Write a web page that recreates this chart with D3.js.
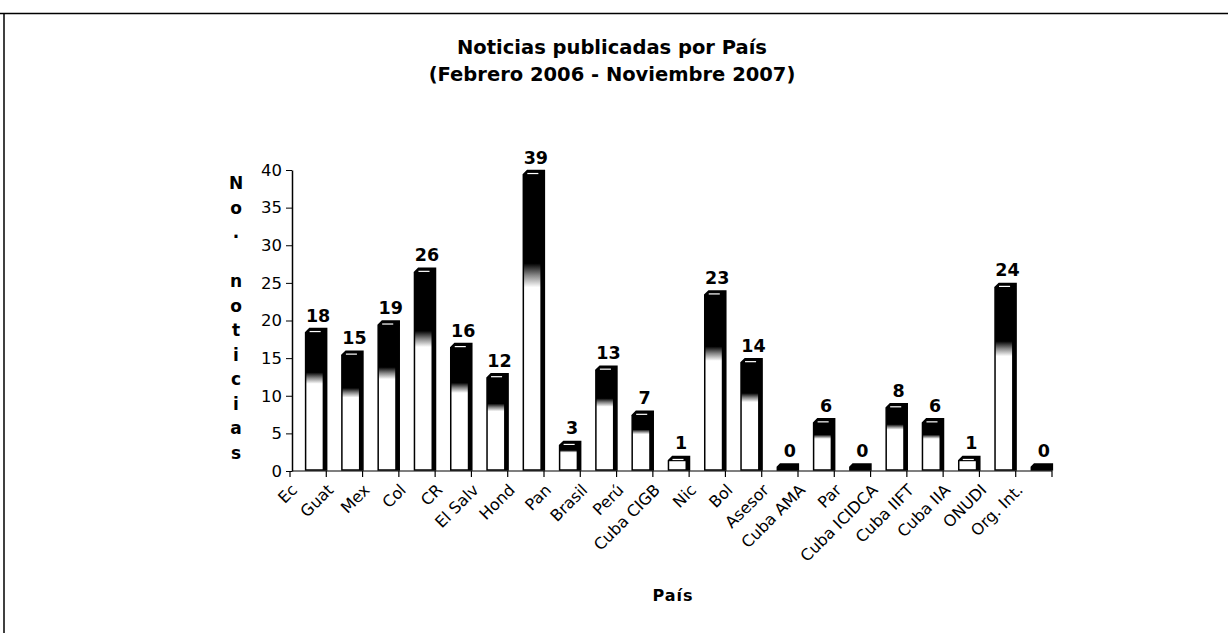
<!DOCTYPE html>
<html>
<head>
<meta charset="utf-8">
<script src="https://cdn.jsdelivr.net/npm/d3@7"></script>
<style>
  body { margin: 0; background: #fff; }
  svg { display: block; font-family: "DejaVu Sans", Verdana, sans-serif; }
</style>
</head>
<body>
<div id="chart"></div>
<script>
// data
const paises = ["Ec", "Guat", "Mex", "Col", "CR", "El Salv", "Hond", "Pan", "Brasil", "Perú",
    "Cuba CIGB", "Nic", "Bol", "Asesor", "Cuba AMA", "Par", "Cuba ICIDCA", "Cuba IIFT",
    "Cuba IIA", "ONUDI", "Org. Int."];
const noticias = [18, 15, 19, 26, 16, 12, 39, 3, 13, 7, 1, 23, 14, 0, 6, 0, 8, 6, 1, 24, 0];
const yTicks = [0, 5, 10, 15, 20, 25, 30, 35, 40];
const titulo = ["Noticias publicadas por País", "(Febrero 2006 - Noviembre 2007)"];
const yTitulo = "No. noticias";
const xTitulo = "País";

const svgWidth = 1228;
const svgHeight = 633;

const svg = d3.select("#chart")
    .append("svg")
    .attr("width", svgWidth)
    .attr("height", svgHeight);

// frame lines
svg.append("line").attr("x1", 0).attr("x2", svgWidth).attr("y1", 13.5).attr("y2", 13.5)
    .attr("stroke", "#000").attr("stroke-width", 1.5);
svg.append("line").attr("x1", 4).attr("x2", 4).attr("y1", 13).attr("y2", svgHeight)
    .attr("stroke", "#000").attr("stroke-width", 1.5);

// gradient for the bars (dark top, white bottom)
const defs = svg.append("defs");
const grad = defs.append("linearGradient")
    .attr("id", "barGrad")
    .attr("x1", 0).attr("y1", 0).attr("x2", 0).attr("y2", 1);
grad.append("stop").attr("offset", "0").attr("stop-color", "#000");
grad.append("stop").attr("offset", "0.31").attr("stop-color", "#000");
grad.append("stop").attr("offset", "0.35").attr("stop-color", "#888");
grad.append("stop").attr("offset", "0.39").attr("stop-color", "#fff");
grad.append("stop").attr("offset", "1").attr("stop-color", "#fff");

const xScale = d3.scaleBand().domain(paises).range([290, 1052]).padding(0);
const yScale = d3.scaleLinear().domain([0, 40]).range([471, 170]);

// title
svg.append("g").selectAll("text")
    .data(titulo)
    .enter()
    .append("text")
    .attr("x", 612)
    .attr("y", (d, i) => 54 + i * 27)
    .attr("text-anchor", "middle")
    .attr("font-weight", "bold")
    .attr("font-size", 19.5)
    .text(d => d);

// Y axis
const leftAxis = d3.axisLeft(yScale).tickValues(yTicks).tickSize(6).tickSizeOuter(0).tickPadding(4);
const yAxis = svg.append("g")
    .attr("transform", "translate(292, 0)")
    .call(leftAxis);
yAxis.select(".domain").attr("stroke-width", 1.5);
yAxis.selectAll("text").attr("font-size", 16.5).attr("font-family", "DejaVu Sans").attr("fill", "#000");

// Y title, one character per line
svg.append("g").selectAll("text")
    .data(yTitulo.split(""))
    .enter()
    .append("text")
    .attr("x", 236)
    .attr("y", (d, i) => 189 + i * 24.5)
    .attr("text-anchor", "middle")
    .attr("font-weight", "bold")
    .attr("font-size", 17)
    .text(d => d);

// floor line and band ticks
const bw = xScale.bandwidth();
const bounds = paises.map(p => xScale(p)).concat([xScale(paises[paises.length - 1]) + bw]);
svg.append("line")
    .attr("x1", 292).attr("x2", bounds[bounds.length - 1])
    .attr("y1", 471).attr("y2", 471)
    .attr("stroke", "#000").attr("stroke-width", 1.2);
svg.append("g").selectAll("line")
    .data(bounds)
    .enter()
    .append("line")
    .attr("x1", d => d).attr("x2", d => d)
    .attr("y1", 471).attr("y2", 477)
    .attr("stroke", "#000").attr("stroke-width", 1.2);

// X labels
const bottomAxis = d3.axisBottom(xScale).tickSize(0).tickSizeOuter(0);
const xAxis = svg.append("g")
    .attr("transform", "translate(0, 471)")
    .call(bottomAxis);
xAxis.select(".domain").remove();
xAxis.selectAll("text")
    .attr("font-size", 16)
    .attr("font-family", "DejaVu Sans")
    .attr("fill", "#000")
    .attr("text-anchor", "end")
    .attr("x", 0).attr("y", 0).attr("dy", 0)
    .attr("transform", "translate(-10, 20) rotate(-45)");

svg.append("text")
    .attr("x", 673)
    .attr("y", 601)
    .attr("text-anchor", "middle")
    .attr("font-weight", "bold")
    .attr("font-size", 16)
    .attr("letter-spacing", 1)
    .text(xTitulo);

// bars
const depth = 7;
const barW = bw * 0.58;
const barX = p => xScale(p) + bw * 0.43;
const base = yScale(0) - 1;

const bars = svg.append("g").selectAll("g")
    .data(paises.map((p, i) => ({ pais: p, v: noticias[i] })))
    .enter()
    .append("g");

bars.append("path")
    .attr("d", d => {
        const x0 = barX(d.pais), x1 = x0 + barW;
        const t = yScale(d.v) - depth;
        const c = Math.min(4, (base - t) / 2);
        return `M${x0},${base} L${x0},${t + c} L${x0 + c},${t} L${x1},${t} L${x1},${base} Z`;
    })
    .attr("fill", d => d.v === 0 ? "#000" : "url(#barGrad)")
    .attr("stroke", "#000")
    .attr("stroke-width", 1.5);

// dark side face
bars.append("rect")
    .attr("x", d => barX(d.pais) + barW - 4)
    .attr("y", d => yScale(d.v) - depth)
    .attr("width", 4)
    .attr("height", d => base - yScale(d.v) + depth)
    .attr("fill", "#000");

// top highlight
bars.filter(d => d.v > 0).append("line")
    .attr("x1", d => barX(d.pais) + 4)
    .attr("x2", d => barX(d.pais) + barW - 6)
    .attr("y1", d => yScale(d.v) - depth + 3)
    .attr("y2", d => yScale(d.v) - depth + 3)
    .attr("stroke", "#fff")
    .attr("stroke-width", 1.2);

// value labels
bars.append("text")
    .attr("x", d => barX(d.pais) + barW / 2 + 2)
    .attr("y", d => yScale(d.v) - depth - 7)
    .attr("text-anchor", "middle")
    .attr("font-weight", "bold")
    .attr("font-size", 17.5)
    .text(d => d.v);
</script>
</body>
</html>
